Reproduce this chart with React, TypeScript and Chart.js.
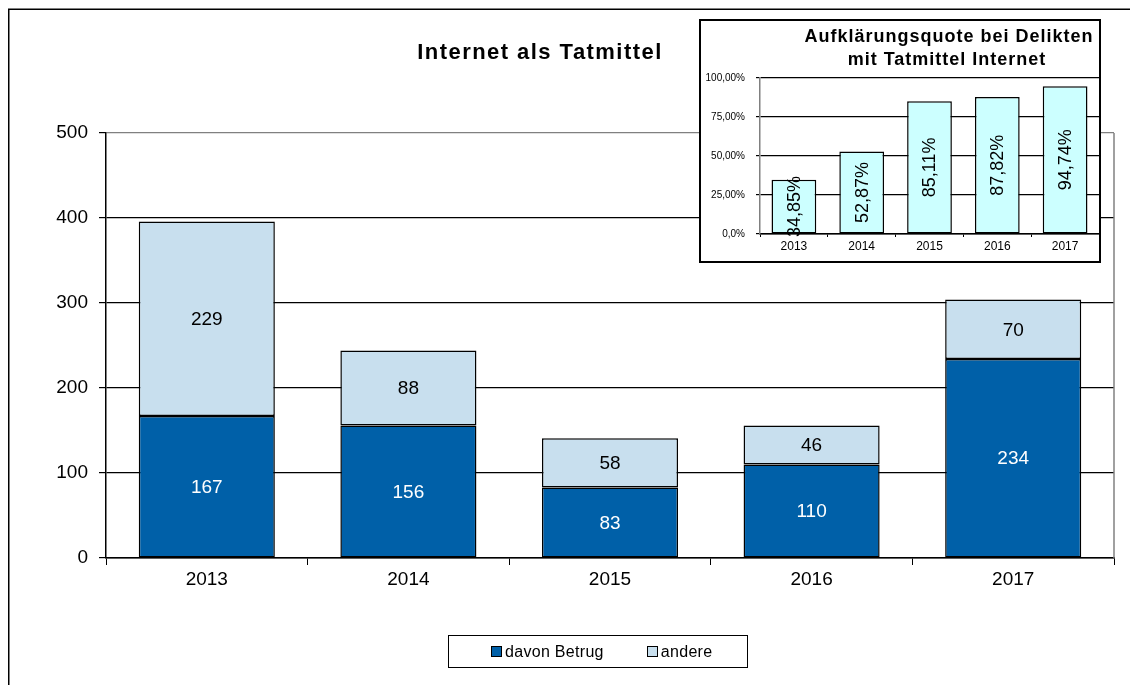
import React, { useEffect, useRef } from "react";
import { Chart, registerables } from "chart.js";

Chart.register(...registerables);

const years = ["2013", "2014", "2015", "2016", "2017"];
const betrug = [167, 156, 83, 110, 234];
const andere = [229, 88, 58, 46, 70];
const quote = [34.85, 52.87, 85.11, 87.82, 94.74];
const insetTickLabels = ["0,0%", "25,00%", "50,00%", "75,00%", "100,00%"];
const seriesNames = ["davon Betrug", "andere"];
const seriesColors = ["#0060A8", "#C8DFEE"];
const labelColors = ["#ffffff", "#000000"];
const mainTitle = "Internet als Tatmittel";
const insetTitle = ["Aufklärungsquote bei Delikten", "mit Tatmittel Internet"];

const FONT = "'Liberation Sans', Arial, sans-serif";

export default function App() {
  const mainRef = useRef<HTMLCanvasElement>(null);
  const insetRef = useRef<HTMLCanvasElement>(null);

  useEffect(() => {
    Chart.defaults.font.family = FONT;
    Chart.defaults.color = "#000";

    const mainPlugin = {
      id: "mainDeco",
      beforeDraw(chart: any) {
        const ctx = chart.ctx;
        ctx.save();
        ctx.fillStyle = "#fff";
        ctx.fillRect(0, 0, chart.width, chart.height);
        ctx.strokeStyle = "#000";
        ctx.lineWidth = 1.5;
        ctx.beginPath();
        ctx.moveTo(8.75, chart.height);
        ctx.lineTo(8.75, 9.25);
        ctx.lineTo(chart.width, 9.25);
        ctx.stroke();
        ctx.fillStyle = "#000";
        ctx.font = `bold 22px ${FONT}`;
        (ctx as any).letterSpacing = "1.45px";
        ctx.textAlign = "center";
        ctx.textBaseline = "middle";
        ctx.fillText(mainTitle, 540, 53);
        ctx.restore();
      },
      beforeDatasetsDraw(chart: any) {
        const { ctx, chartArea } = chart;
        ctx.save();
        ctx.strokeStyle = "#808080";
        ctx.lineWidth = 1.5;
        ctx.beginPath();
        ctx.moveTo(chartArea.right, chartArea.top);
        ctx.lineTo(chartArea.right, chartArea.bottom);
        ctx.stroke();
        ctx.restore();
      },
      afterDatasetsDraw(chart: any) {
        const ctx = chart.ctx;
        ctx.save();
        ctx.font = `19px ${FONT}`;
        ctx.textAlign = "center";
        ctx.textBaseline = "middle";
        chart.data.datasets.forEach((ds: any, i: number) => {
          const meta = chart.getDatasetMeta(i);
          meta.data.forEach((bar: any, j: number) => {
            const p = bar.getProps(["x", "y", "base"], true);
            ctx.fillStyle = labelColors[i];
            ctx.fillText(String(ds.data[j]), p.x, (p.y + p.base) / 2 + 1);
          });
        });
        ctx.restore();
      },
    };

    const main = new Chart(mainRef.current!, {
      type: "bar",
      data: {
        labels: years,
        datasets: [
          {
            label: seriesNames[0],
            data: betrug,
            backgroundColor: seriesColors[0],
            borderColor: "#000",
            borderWidth: 1.5,
            borderSkipped: false,
            categoryPercentage: 1,
            barPercentage: 0.675,
          },
          {
            label: seriesNames[1],
            data: andere,
            backgroundColor: seriesColors[1],
            borderColor: "#000",
            borderWidth: 1.5,
            borderSkipped: false,
            categoryPercentage: 1,
            barPercentage: 0.675,
          },
        ],
      },
      options: {
        responsive: false,
        animation: false,
        events: [],
        layout: { padding: { left: 0, right: 16, top: 133, bottom: 87 } },
        plugins: { legend: { display: false }, title: { display: false }, tooltip: { enabled: false } },
        scales: {
          x: {
            stacked: true,
            afterFit: (s: any) => { s.height = 40; },
            border: { display: true, color: "#000", width: 1.5 },
            grid: { offset: true, drawOnChartArea: false, drawTicks: true, tickLength: 7, color: "#000", tickColor: "#000" },
            ticks: { font: { size: 19, family: FONT }, color: "#000", padding: 3 },
          },
          y: {
            stacked: true,
            min: 0,
            max: 500,
            afterFit: (s: any) => { s.width = 106; },
            border: { display: true, color: "#000", width: 1.5 },
            grid: {
              color: (c: any) => (c.tick && c.tick.value === 500 ? "#808080" : "#000"),
              tickColor: "#000",
              tickLength: 7,
              lineWidth: 1.2,
            },
            ticks: { stepSize: 100, font: { size: 19, family: FONT }, color: "#000", padding: 11 },
          },
        },
      },
      plugins: [mainPlugin],
    });

    const insetPlugin = {
      id: "insetDeco",
      beforeDraw(chart: any) {
        const ctx = chart.ctx;
        ctx.save();
        ctx.fillStyle = "#fff";
        ctx.fillRect(0, 0, chart.width, chart.height);
        ctx.fillStyle = "#000";
        ctx.font = `bold 18px ${FONT}`;
        (ctx as any).letterSpacing = "1px";
        ctx.textAlign = "center";
        ctx.textBaseline = "middle";
        ctx.fillText(insetTitle[0], 248, 16);
        ctx.fillText(insetTitle[1], 246, 39);
        ctx.restore();
      },
      afterDatasetsDraw(chart: any) {
        const ctx = chart.ctx;
        ctx.save();
        ctx.font = `18px ${FONT}`;
        ctx.fillStyle = "#000";
        ctx.textAlign = "center";
        ctx.textBaseline = "middle";
        const meta = chart.getDatasetMeta(0);
        meta.data.forEach((bar: any, j: number) => {
          const p = bar.getProps(["x", "y", "base"], true);
          const txt = quote[j].toFixed(2).replace(".", ",") + "%";
          ctx.save();
          ctx.translate(p.x + 1, (p.y + p.base) / 2);
          ctx.rotate(-Math.PI / 2);
          ctx.fillText(txt, 0, 0);
          ctx.restore();
        });
        ctx.restore();
      },
    };

    const inset = new Chart(insetRef.current!, {
      type: "bar",
      data: {
        labels: years,
        datasets: [
          {
            label: "Aufklärungsquote",
            data: quote,
            backgroundColor: "#CCFFFF",
            borderColor: "#000",
            borderWidth: 1.5,
            borderSkipped: false,
            categoryPercentage: 1,
            barPercentage: 0.66,
          },
        ],
      },
      options: {
        responsive: false,
        animation: false,
        events: [],
        layout: { padding: { left: 0, right: 0, top: 57, bottom: 7 } },
        plugins: { legend: { display: false }, title: { display: false }, tooltip: { enabled: false } },
        scales: {
          x: {
            afterFit: (s: any) => { s.height = 20; },
            border: { display: true, color: "#000", width: 1.5 },
            grid: { offset: true, drawOnChartArea: false, drawTicks: true, tickLength: 3, color: "#000", tickColor: "#000" },
            ticks: { font: { size: 12, family: FONT }, color: "#000", padding: 2 },
          },
          y: {
            min: 0,
            max: 100,
            afterFit: (s: any) => { s.width = 59; },
            border: { display: true, color: "#808080", width: 1.5 },
            grid: { color: "#000", tickColor: "#000", tickLength: 4, lineWidth: 1.2 },
            ticks: {
              stepSize: 25,
              font: { size: 10, family: FONT },
              color: "#000",
              padding: 11,
              callback: (_v: any, i: number) => insetTickLabels[i],
            },
          },
        },
      },
      plugins: [insetPlugin],
    });

    return () => {
      main.destroy();
      inset.destroy();
    };
  }, []);

  return (
    <div style={{ position: "fixed", left: 0, top: 0, width: 1130, height: 685, background: "#fff", overflow: "hidden" }}>
      <canvas ref={mainRef} width={1130} height={685} style={{ position: "absolute", left: 0, top: 0, display: "block" }} />
      <div
        style={{
          position: "absolute",
          left: 699,
          top: 19,
          width: 402,
          height: 244,
          border: "2px solid #000",
          boxSizing: "border-box",
          background: "#fff",
        }}
      >
        <canvas ref={insetRef} width={398} height={240} style={{ display: "block" }} />
      </div>
      <div
        style={{
          position: "absolute",
          left: 448,
          top: 635,
          width: 300,
          height: 33,
          border: "1.5px solid #000",
          boxSizing: "border-box",
          display: "flex",
          alignItems: "center",
          fontFamily: FONT,
          fontSize: 16,
          color: "#000",
          paddingLeft: 42,
        }}
      >
        {seriesNames.map((n, i) => (
          <div key={n} style={{ display: "flex", alignItems: "center", marginLeft: i === 0 ? 0 : 43 }}>
            <span
              style={{
                display: "inline-block",
                width: 9,
                height: 9,
                background: seriesColors[i],
                border: "1px solid #000",
                marginRight: 3,
              }}
            />
            <span style={{ letterSpacing: "0.3px" }}>{n}</span>
          </div>
        ))}
      </div>
    </div>
  );
}
